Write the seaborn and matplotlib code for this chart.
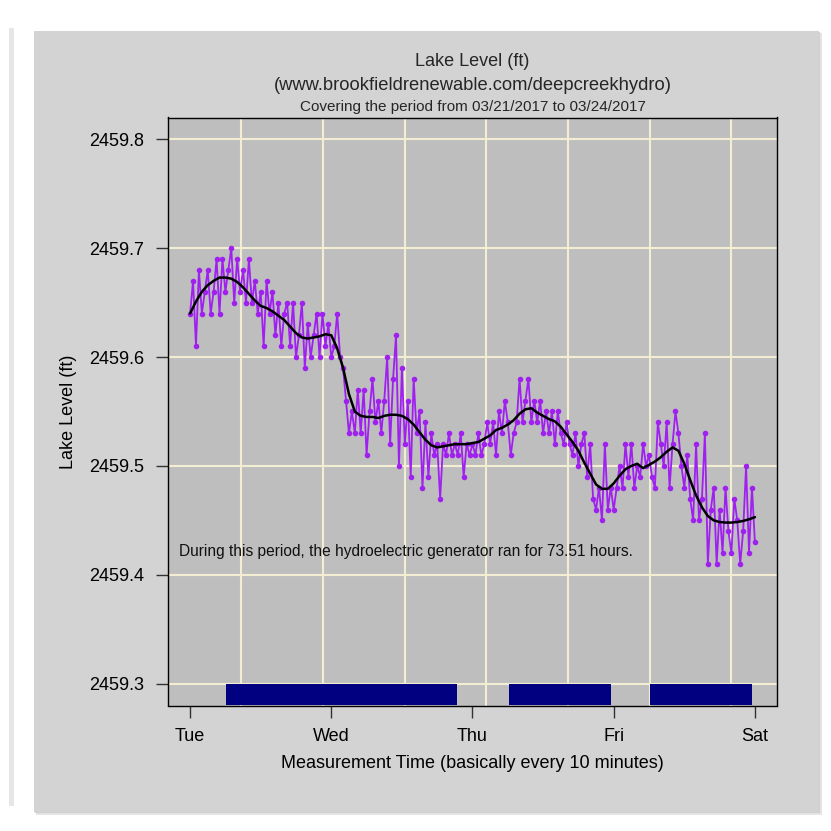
import numpy as np
import pandas as pd
import matplotlib
matplotlib.use("Agg")
import matplotlib.pyplot as plt
from matplotlib.patches import Rectangle
import seaborn as sns

# ---------------- data (lake level in hundredths of a foot above 2459 ft) ----------
BASE_FT = 2459.0
STEP_H = 0.5  # one reading every half hour (hours since Tue 00:00)

tue_cents = [64, 67, 61, 68, 64, 66, 68, 64, 66, 69, 64, 69, 66, 68, 70, 65, 69, 66, 68, 65,
             69, 65, 67, 64, 66, 61, 67, 64, 66, 62, 65, 61, 64, 65, 61, 65, 60, 62, 65, 59,
             63, 60, 62, 64, 60, 64, 61, 63, 60]
wed_cents = [61, 64, 60, 59, 56, 53, 55, 53, 57, 53, 57, 51, 55, 58, 54, 56, 53, 56, 60, 52,
             58, 62, 50, 59, 52, 56, 49, 58, 53, 55, 48, 54, 49, 53, 51, 52, 47, 52, 51, 53,
             51, 52, 51, 53, 49, 52, 51, 52]
thu_cents = [51, 53, 51, 52, 54, 52, 54, 51, 55, 53, 56, 54, 51, 53, 54, 58, 54, 56, 58, 54,
             56, 54, 56, 53, 55, 53, 55, 52, 55, 53, 52, 54, 52, 51, 53, 50, 52, 53, 49, 52,
             47, 46, 48, 45, 52, 46, 48, 46]
fri_cents = [48, 50, 48, 52, 49, 52, 48, 50, 49, 52, 50, 51, 49, 48, 54, 52, 50, 54, 48, 52,
             55, 53, 50, 48, 51, 47, 45, 52, 45, 47, 53, 41, 46, 48, 41, 46, 42, 48, 44, 42,
             47, 45, 41, 44, 50, 42, 48, 43]

# smoothed trend, one value per hour (hours 0..96)
smooth_cents = [64.0, 65.1, 66.0, 66.6, 67.0, 67.3, 67.3, 67.2, 66.9, 66.4,
                65.8, 65.2, 64.7, 64.5, 64.2, 63.8, 63.4, 62.8, 62.2, 61.8,
                61.7, 61.8, 61.9, 62.1, 62.0, 60.8, 59.0, 56.6, 55.0, 54.6,
                54.5, 54.5, 54.4, 54.6, 54.7, 54.7, 54.6, 54.3, 53.8, 53.1,
                52.4, 51.9, 51.7, 51.8, 51.9, 52.0, 52.0, 52.0, 52.1, 52.2,
                52.5, 52.8, 53.3, 53.5, 53.8, 54.2, 54.8, 55.2, 55.3, 54.9,
                54.6, 54.3, 54.1, 53.6, 52.9, 52.2, 51.4, 50.3, 49.3, 48.3,
                47.9, 47.9, 48.4, 49.1, 49.7, 50.0, 50.2, 49.8, 50.1, 50.4,
                50.8, 51.3, 51.7, 51.4, 50.2, 48.7, 47.3, 46.2, 45.4, 45.0,
                44.85, 44.8, 44.8, 44.85, 44.95, 45.1, 45.3]

# generator running periods (hours since Tue 00:00)
run_start_h = [6.1, 54.2, 78.15]
run_end_h = [45.4, 71.5, 95.5]
generator_hours = 73.51

day_labels = ["Tue", "Wed", "Thu", "Fri", "Sat"]
day_ticks_h = [0, 24, 48, 72, 96]
y_ticks = [2459.3, 2459.4, 2459.5, 2459.6, 2459.7, 2459.8]
y_limits = (2459.28, 2459.82)
x_limits = (-3.84, 99.84)
# R grid() lines follow the pretty POSIX ticks: every 50000 s
grid_first_h = 8.667
grid_step_h = 50000 / 3600.0

title_line1 = "Lake Level (ft)"
title_line2 = "(www.brookfieldrenewable.com/deepcreekhydro)"
title_line3 = "Covering the period from 03/21/2017 to 03/24/2017"
x_label = "Measurement Time (basically every 10 minutes)"
y_label = "Lake Level (ft)"
note = f"During this period, the hydroelectric generator ran for {generator_hours:.2f} hours."

# ---------------- styling ----------------
sns.set_theme(style="ticks")
plt.rcParams['font.family'] = ['Liberation Sans', 'DejaVu Sans']

W = H = 831.0
fig = plt.figure(figsize=(8.31, 8.31), dpi=100)
fig.patch.set_facecolor('white')

def fig_rect(x0, y0, x1, y1, color, z=-1):
    fig.patches.append(Rectangle((x0 / W, 1 - y1 / H), (x1 - x0) / W, (y1 - y0) / H,
                                 transform=fig.transFigure, facecolor=color,
                                 edgecolor='none', zorder=z))

# page artefacts: faint side band and the grey card with a soft shadow
fig_rect(9, 28, 14, 806, '#e6e6e6')
fig_rect(36, 33, 822, 815, '#e4e4e4')
fig_rect(35, 32, 820, 813, '#cfcfcf')
fig_rect(34, 31, 819, 812, '#d3d3d3')

ax = fig.add_axes([167.5 / W, 1 - 705.5 / H, 610 / W, 588 / H])
ax.set_zorder(1)
ax.set_facecolor('#bebebe')

levels = np.array(tue_cents + wed_cents + thu_cents + fri_cents) / 100.0 + BASE_FT
df = pd.DataFrame({'hour': np.arange(len(levels)) * STEP_H, 'level': levels})
smooth_df = pd.DataFrame({'hour': np.arange(len(smooth_cents)) * 1.0,
                          'level': np.array(smooth_cents) / 100.0 + BASE_FT})

# generator bars along the bottom
ax.bar(x=run_start_h, height=y_ticks[0] - y_limits[0],
       width=np.subtract(run_end_h, run_start_h), bottom=y_limits[0],
       align='edge', color='#000080', linewidth=0, zorder=2)

sns.lineplot(data=df, x='hour', y='level', ax=ax, estimator=None, sort=False,
             color='#a020f0', linewidth=1.3, marker='o', markersize=4.0,
             markeredgewidth=0, zorder=3)
sns.lineplot(data=smooth_df, x='hour', y='level', ax=ax, estimator=None,
             color='black', linewidth=1.8, zorder=4)

ax.set_xlim(*x_limits)
ax.set_ylim(*y_limits)

ax.set_xticks(day_ticks_h)
ax.set_xticklabels(day_labels)
grid_h = [grid_first_h + k * grid_step_h for k in range(7)]
ax.set_xticks(grid_h, minor=True)
ax.set_yticks(y_ticks)
ax.set_yticklabels([f"{v:.1f}" for v in y_ticks])

grid_color = '#f2edd3'
ax.set_axisbelow(True)
ax.xaxis.grid(True, which='minor', color=grid_color, linewidth=1.5)
ax.xaxis.grid(False, which='major')
ax.yaxis.grid(True, which='major', color=grid_color, linewidth=1.5)

ax.tick_params(axis='x', which='minor', length=0)
ax.tick_params(axis='both', which='major', length=8.4, width=1.0,
               color='#333333', labelsize=13, labelcolor='black', direction='out')
ax.tick_params(axis='y', pad=8.4)
ax.tick_params(axis='x', pad=8)

for s in ax.spines.values():
    s.set_visible(True)
    s.set_color('black')
    s.set_linewidth(1.0)

ax.set_xlabel(x_label, fontsize=13, color='black')
ax.set_ylabel(y_label, fontsize=13, color='black')
ax.xaxis.set_label_coords(0.5, (705.5 - 755) / 588)
ax.yaxis.set_label_coords((77 - 167.5) / 610, 0.5)

cx = (167.5 + 777.5) / 2 / W
fig.text(cx, 1 - 62 / H, title_line1, ha='center', va='center', fontsize=13)
fig.text(cx, 1 - 85 / H, title_line2, ha='center', va='center', fontsize=13.2)
fig.text(cx, 1 - 107 / H, title_line3, ha='center', va='center', fontsize=11)

ax.text(-1.87, 2459.421, note, ha='left', va='center', fontsize=11.2, color='#111111')

fig.savefig('out.png', dpi=100, facecolor=fig.get_facecolor())
